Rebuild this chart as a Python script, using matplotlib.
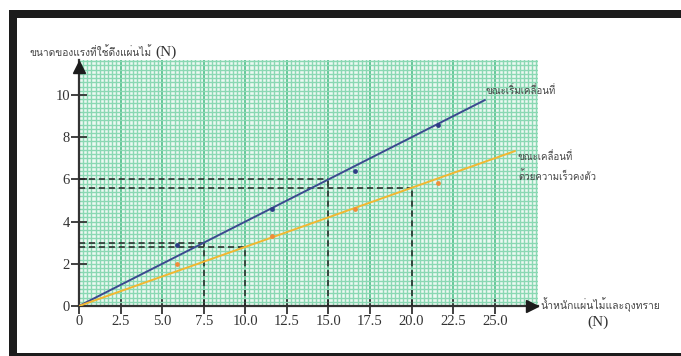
import matplotlib
matplotlib.use("Agg")
import matplotlib.pyplot as plt
from matplotlib import font_manager as fm
from matplotlib.ft2font import FT2Font
from matplotlib.patches import Rectangle
from matplotlib.ticker import MultipleLocator

# values
weight_x = [5.9, 11.6, 16.6, 21.6]
start_force = [2.9, 4.6, 6.4, 8.6]      # blue dots
moving_force = [2.0, 3.3, 4.6, 5.85]    # orange dots

start_line_x = [0, 24.4]
start_line_y = [0, 9.76]
moving_line_x = [0, 26.2]
moving_line_y = [0, 7.34]

# dashed read-off guides (x, y)
read_x = [7.5, 10.0, 15.0, 20.0]
read_y = [3.0, 2.8, 6.0, 5.6]

x_ticks = [0, 2.5, 5.0, 7.5, 10.0, 12.5, 15.0, 17.5, 20.0, 22.5, 25.0]
x_tick_labels = ["0", "2.5", "5.0", "7.5", "10.0", "12.5", "15.0", "17.5", "20.0", "22.5", "25.0"]
y_ticks = [0, 2, 4, 6, 8, 10]

y_title = "ขนาดของแรงที่ใช้ดึงแผ่นไม้"
x_title = "น้ำหนักแผ่นไม้และถุงทราย"
start_label = "ขณะเริ่มเคลื่อนที่"
moving_label = ["ขณะเคลื่อนที่", "ด้วยความเร็วคงตัว"]


def find_thai_font():
    # first installed family that has Thai glyphs
    for f in fm.fontManager.ttflist:
        try:
            if FT2Font(f.fname).get_char_index(ord("ก")):
                return f.name
        except Exception:
            pass
    return None


thai = find_thai_font()
thai_family = [thai, "DejaVu Sans"] if thai else ["DejaVu Sans"]
serif = "Liberation Serif"

W, H = 681, 356
fig = plt.figure(figsize=(W / 100, H / 100), dpi=100)
fig.patch.set_facecolor("white")


def px(x, y):
    return x / W, 1 - y / H


# black frame (left, top, bottom)
for (x0, y0, x1, y1) in [(9, 10, 681, 18), (9, 10, 17, 356), (9, 353, 681, 356)]:
    fig.add_artist(Rectangle(px(x0, y1), (x1 - x0) / W, (y1 - y0) / H,
                             transform=fig.transFigure, color="#1c1c1c", lw=0))

ax = fig.add_axes([79 / W, 1 - 306 / H, (538 - 79) / W, (306 - 60) / H])
ax.set_facecolor("#ecf9f2")
ax.set_xlim(0, 27.6)
ax.set_ylim(0, 11.66)

# graph paper
ax.xaxis.set_minor_locator(MultipleLocator(0.25))
ax.yaxis.set_minor_locator(MultipleLocator(0.2))
ax.grid(which="minor", color="#8ad8b3", lw=1.0)
ax.grid(which="major", axis="y", color="#8ad8b3", lw=1.0)
ax.grid(which="major", axis="x", color="#3fba80", lw=1.1)
ax.set_axisbelow(True)

ax.set_xticks(x_ticks)
ax.set_xticklabels(x_tick_labels)
ax.set_yticks(y_ticks)
ax.tick_params(which="major", direction="inout", length=11, width=1.3, color="#333333",
               labelsize=10.5, labelcolor="#333333", pad=1)
ax.tick_params(which="minor", length=0)
for lab in ax.get_xticklabels() + ax.get_yticklabels():
    lab.set_family(serif)

for s in ["top", "right"]:
    ax.spines[s].set_visible(False)
for s in ["left", "bottom"]:
    ax.spines[s].set_color("#333333")
    ax.spines[s].set_linewidth(1.6)

# axis arrow heads
ax.plot(0, 11.35, marker="^", ms=9, color="#1c1c1c", clip_on=False, zorder=6)
ax.plot(27.25, 0, marker=">", ms=9, color="#1c1c1c", clip_on=False, zorder=6)

# dashed guides
for xv, yv in zip(read_x, read_y):
    ax.plot([0, xv], [yv, yv], ls=(0, (4, 2.5)), color="#222222", lw=1.1, zorder=3)
    ax.plot([xv, xv], [0, yv], ls=(0, (4, 2.5)), color="#222222", lw=1.1, zorder=3)

ax.plot(start_line_x, start_line_y, color="#3b4a8f", lw=1.4, zorder=4)
ax.plot(moving_line_x, moving_line_y, color="#f2b731", lw=1.4, zorder=4)
ax.scatter(weight_x, start_force, s=12, color="#2f3c86", zorder=5, lw=0)
ax.scatter(weight_x, moving_force, s=12, color="#f08c3a", zorder=5, lw=0)

# titles and labels
t = fig.text(*px(30, 52), y_title, family=thai_family, fontsize=7.3, color="#444444", va="center")
fig.canvas.draw()
bb = t.get_window_extent()
fig.text(bb.x1 / W + 3 / W, 1 - 52 / H, "(N)", family=serif, fontsize=11,
         color="#333333", va="center")

fig.text(*px(540, 305), x_title, family=thai_family, fontsize=7.5, color="#444444", va="center")
fig.text(*px(598, 322), "(N)", family=serif, fontsize=11, color="#333333", va="center", ha="center")

fig.text(*px(486, 91), start_label, family=thai_family, fontsize=7, color="#444444", va="center")
fig.text(*px(518, 157), moving_label[0], family=thai_family, fontsize=7, color="#444444", va="center")
fig.text(*px(518, 176), moving_label[1], family=thai_family, fontsize=7, color="#444444", va="center")

fig.savefig("out.png", dpi=100)
